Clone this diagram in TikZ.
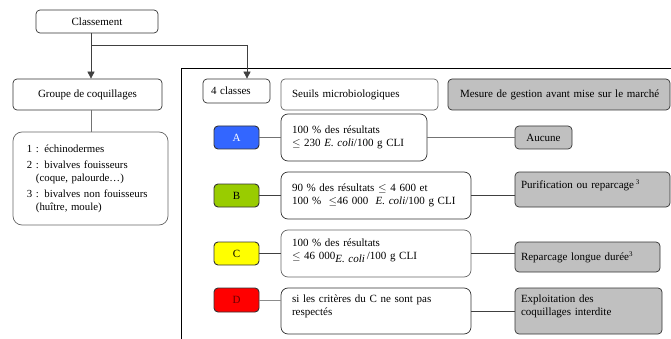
\documentclass[tikz,border=0pt]{standalone}
\usepackage{fontspec}
\setmainfont{Liberation Serif}
\usetikzlibrary{arrows.meta}
\definecolor{cA}{HTML}{3366FF}
\definecolor{cB}{HTML}{99CC00}
\definecolor{cC}{HTML}{FFFF00}
\definecolor{cD}{HTML}{FF0000}
\definecolor{grayfill}{HTML}{C0C0C0}
\begin{document}
\begin{tikzpicture}[x=1pt,y=-1pt,
  font=\fontsize{11}{13}\selectfont,
  box/.style={draw=black!80, line width=0.7pt, rounded corners=4pt, inner sep=0pt, align=center},
  tbox/.style={box, align=left},
  gbox/.style={box, fill=grayfill, align=left},
  cbox/.style={box, line width=0.9pt},
  conn/.style={line width=0.7pt, draw=black!75},
  arr/.style={conn, -{Triangle[length=7pt,width=7pt]}},
]
\useasboundingbox (0,0) rectangle (671,339);
% frame
\draw[line width=0.8pt] (181,339) -- (181,68) -- (671,68);
% Classement
\node[box, minimum width=122, minimum height=23] (cls) at (97,21.5) {Classement};
\node[box, minimum width=149, minimum height=31] (grp) at (87.5,94.5) {Groupe de coquillages};
\node[box, draw=black!60, rounded corners=9pt, minimum width=155, minimum height=93, text width=127, align=left,
      font=\fontsize{10.8}{12.5}\selectfont] (lst) at (90.5,178.5)
  {1 : échinodermes\\[4pt]
   2 : bivalves fouisseurs\\\hspace*{9pt}(coque, palourde…)\\[4pt]
   3 : bivalves non fouisseurs\\\hspace*{9pt}(huître, moule)};
\node[box, minimum width=67, minimum height=24, text width=51, align=left] (cl4) at (236.5,91) {4 classes};
\node[box, draw=black!60, minimum width=157, minimum height=31, text width=135, align=left] (seu) at (359.5,94.5) {Seuils microbiologiques};
\node[gbox, minimum width=222, minimum height=31, text width=198] (mes) at (559,94.5) {\mbox{Mesure de gestion avant mise sur le marché}};
\coordinate (j) at (91,45);
\coordinate (k) at (247,45);
\draw[arr] (cls.south -| j) -- (grp.north -| j);
\draw[conn] (j) -- (k);
\draw[arr] (k) -- (cl4.north -| k);
\draw[conn, draw=black!55] (grp.south -| j) -- (lst.north -| j);
% classes
\node[cbox, fill=cA, text=white, minimum width=45, minimum height=23] (A) at (236.5,137.5) {A};
\node[cbox, fill=cB, minimum width=45, minimum height=23] (B) at (236.5,195.5) {B};
\node[cbox, fill=cC, minimum width=45, minimum height=23] (C) at (236.5,253.5) {C};
\node[cbox, fill=cD, text=black!60!red, minimum width=45, minimum height=24] (D) at (236.5,300) {D};
% seuils
\node[tbox, rounded corners=7pt, minimum width=146, minimum height=47, text width=124] (sA) at (354,137.5)
  {100 \% des résultats\\$\leq$ 230 \textit{E. coli}/100 g CLI};
\node[tbox, rounded corners=7pt, minimum width=190, minimum height=47, text width=168] (sB) at (376,195.5)
  {\mbox{90 \% des résultats $\leq$ 4 600 et}\\\mbox{100 \% \ $\leq$46 000 \ \textit{E. coli}/100 g CLI}};
\node[tbox, draw=black!60, rounded corners=7pt, minimum width=190, minimum height=47, text width=168] (sC) at (376,253.5)
  {100 \% des résultats\\$\leq$ 46 000\raisebox{-3pt}{\textit{E. coli}}\,/100 g CLI\\[-4pt]\mbox{}};
\node[tbox, rounded corners=7pt, minimum width=190, minimum height=46, text width=168] (sD) at (376,311)
  {si les critères du C ne sont pas\\respectés\\[-2pt]\mbox{}};
% mesures
\node[gbox, minimum width=57, minimum height=23, text width=57, align=center] (mA) at (543.5,137.5) {Aucune};
\node[gbox, minimum width=155, minimum height=35, text width=143] (mB) at (592.5,189.5)
  {Purification ou reparcage\,\textsuperscript{\scriptsize 3}\\[-2pt]\mbox{}};
\node[gbox, minimum width=145, minimum height=30, text width=133] (mC) at (587.5,257)
  {Reparcage longue durée\textsuperscript{\scriptsize 3}};
\node[gbox, minimum width=147, minimum height=46, text width=135] (mD) at (588.5,311)
  {Exploitation des\\coquillages interdite\\[-2pt]\mbox{}};
% connectors
\draw[conn, draw=black!55] (A.east) -- (sA.west);
\draw[conn, draw=black!55] (sA.east) -- (mA.west);
\draw[conn] (B.east) -- (sB.west);
\draw[conn] (sB.east) -- (sB.east -| mB.west);
\draw[conn] (C.east) -- (sC.west);
\draw[conn] (sC.east) -- (sC.east -| mC.west);
\draw[conn, draw=black!45] (D.east) -- (D.east -| sD.west);
\draw[conn] (sD.east) -- (mD.west);
\end{tikzpicture}
\end{document}
